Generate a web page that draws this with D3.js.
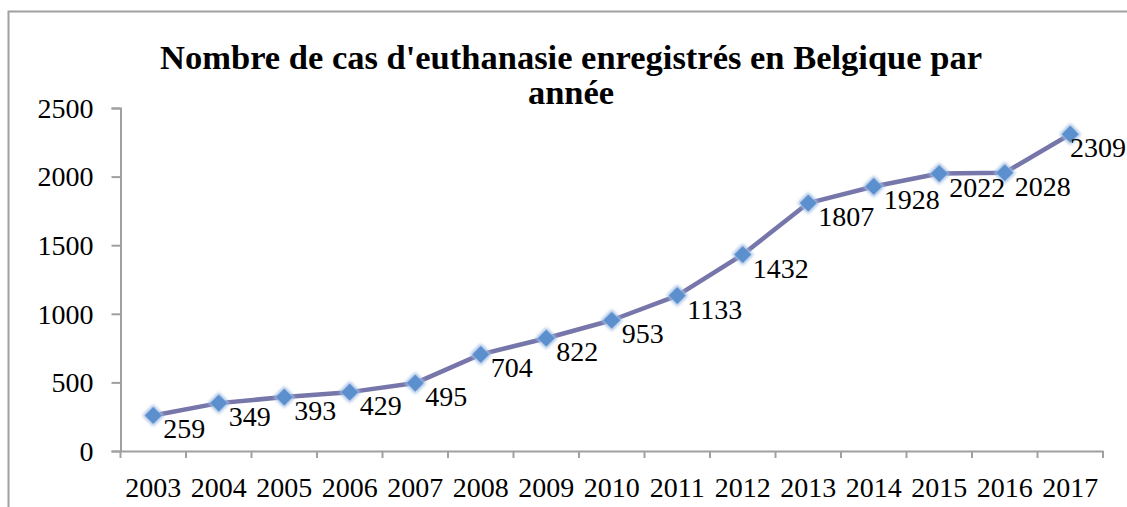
<!DOCTYPE html>
<html>
<head>
<meta charset="utf-8">
<script src="https://cdn.jsdelivr.net/npm/d3@7"></script>
<style>
  body { margin: 0; background: #fff; }
  svg { display: block; }
</style>
</head>
<body>
<svg id="chart" width="1127" height="507"></svg>
<script>
"use strict";

let width = 1127;
let height = 507;

// Data
let years = ["2003", "2004", "2005", "2006", "2007", "2008", "2009", "2010",
             "2011", "2012", "2013", "2014", "2015", "2016", "2017"];
let cases = [259, 349, 393, 429, 495, 704, 822, 953, 1133, 1432, 1807, 1928, 2022, 2028, 2309];
let yTicks = [0, 500, 1000, 1500, 2000, 2500];
let titleLines = ["Nombre de cas d'euthanasie enregistrés en Belgique par", "année"];

let margin = {left: 120.5, right: 24, top: 108, bottom: 56};
let font = "'Liberation Serif', 'Times New Roman', serif";

let svg = d3.select('#chart');

// glow for the markers
let defs = svg.append("defs");
defs.append("filter")
  .attr("id", "soft")
  .attr("x", "-50%").attr("y", "-50%")
  .attr("width", "200%").attr("height", "200%")
  .append("feGaussianBlur")
  .attr("stdDeviation", 1.4);

// outer frame (runs off the right and bottom edges)
svg.append("rect")
  .attr("x", 8.5)
  .attr("y", 11.5)
  .attr("width", width + 50)
  .attr("height", height + 50)
  .style("fill", "none")
  .style("stroke", "#a0a0a0")
  .style("stroke-width", 2);

// Title
svg.append("text")
  .attr("x", 571)
  .attr("y", 69)
  .attr("text-anchor", "middle")
  .style("font-family", font)
  .style("font-weight", "bold")
  .style("font-size", "34.5px")
  .selectAll("tspan")
  .data(titleLines)
  .enter()
  .append("tspan")
  .attr("x", 571)
  .attr("dy", (d, i) => i === 0 ? 0 : 35)
  .text(d => d);

// Scales
let xScale = d3.scaleBand()
  .domain(years)
  .range([margin.left, width - margin.right]);

let yScale = d3.scaleLinear()
  .domain([0, 2500])
  .range([451, margin.top]);

// Y axis
let yAxis = svg.append("g")
  .attr("transform", `translate(${margin.left},0)`)
  .call(d3.axisLeft(yScale).tickValues(yTicks).tickFormat(d3.format("d")).tickSize(9).tickPadding(18));
yAxis.select(".domain").style("stroke", "#a0a0a0").style("stroke-width", 2);
yAxis.selectAll(".tick line").style("stroke", "#a0a0a0").style("stroke-width", 2);
yAxis.selectAll("text")
  .style("font-family", font)
  .style("font-size", "28px")
  .style("fill", "#000")
  .attr("dy", "0.33em");

// X axis
let xAxis = svg.append("g")
  .attr("transform", `translate(0,451)`)
  .call(d3.axisBottom(xScale).tickSize(0).tickSizeOuter(0).tickPadding(0));
xAxis.select(".domain").style("stroke", "#a0a0a0").style("stroke-width", 2);
xAxis.selectAll("text")
  .style("font-family", font)
  .style("font-size", "28px")
  .style("fill", "#000")
  .attr("y", 46)
  .attr("dy", 0);

// tick marks between categories
let bounds = years.map(d => xScale(d)).concat([xScale(years[years.length - 1]) + xScale.bandwidth()]);
xAxis.selectAll("line.sep")
  .data(bounds)
  .enter()
  .append("line")
  .attr("class", "sep")
  .attr("x1", d => d).attr("x2", d => d)
  .attr("y1", 0).attr("y2", 7)
  .style("stroke", "#a0a0a0")
  .style("stroke-width", 2);

let cx = d => xScale(d) + xScale.bandwidth() / 2;

// Line
let line = d3.line()
  .x((d, i) => cx(years[i]))
  .y(d => yScale(d));

svg.append("path")
  .datum(cases)
  .attr("d", line)
  .style("fill", "none")
  .style("stroke", "#7676aa")
  .style("stroke-width", 4.5)
  .style("stroke-linejoin", "round");

// Markers
let markers = svg.append("g");
markers.selectAll("path.glow")
  .data(cases)
  .enter()
  .append("path")
  .attr("class", "glow")
  .attr("d", d3.symbol().type(d3.symbolSquare).size(230))
  .attr("transform", (d, i) => `translate(${cx(years[i])},${yScale(d)}) rotate(45)`)
  .style("fill", "#9fbbe2")
  .attr("filter", "url(#soft)");
markers.selectAll("path.dot")
  .data(cases)
  .enter()
  .append("path")
  .attr("class", "dot")
  .attr("d", d3.symbol().type(d3.symbolSquare).size(140))
  .attr("transform", (d, i) => `translate(${cx(years[i])},${yScale(d)}) rotate(45)`)
  .style("fill", "#5b8fcd");

// Data labels
svg.append("g")
  .selectAll("text")
  .data(cases)
  .enter()
  .append("text")
  .attr("x", (d, i) => cx(years[i]) + 10)
  .attr("y", d => yScale(d) + 23)
  .style("font-family", font)
  .style("font-size", "28px")
  .style("fill", "#000")
  .text(d => d)
  .each(function() {
    // keep the label inside the picture
    let w = this.getComputedTextLength();
    let x = +d3.select(this).attr("x");
    if (x + w > width - 1) d3.select(this).attr("x", width - 1 - w);
  });
</script>
</body>
</html>
